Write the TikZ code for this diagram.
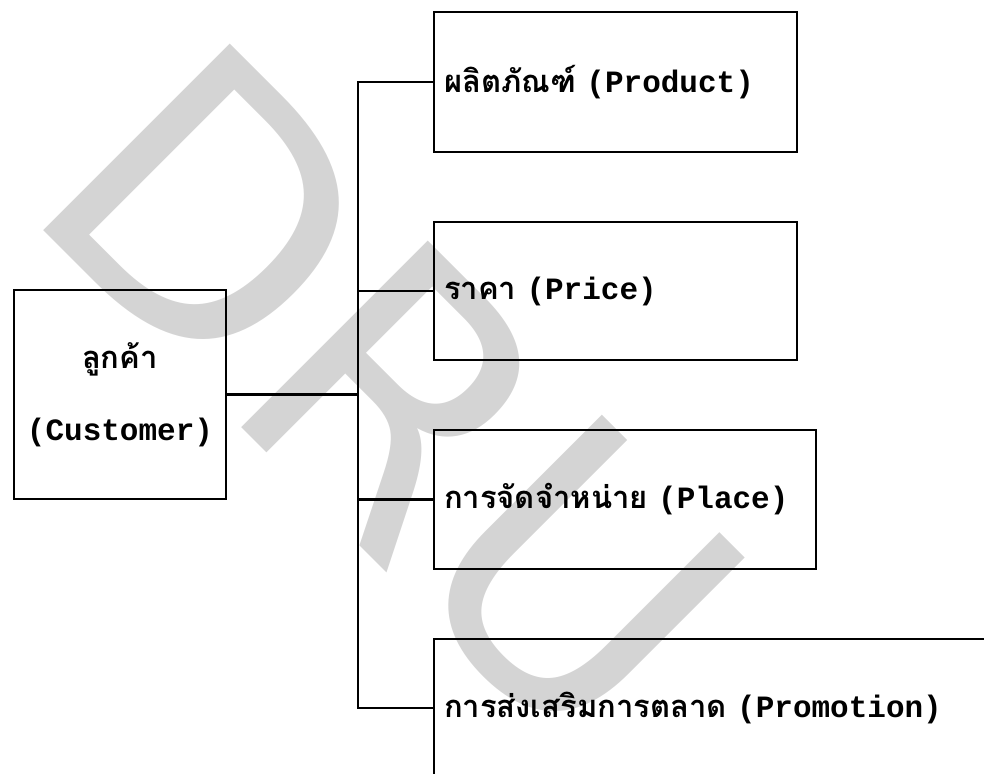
\documentclass[tikz,border=0pt]{standalone}
\usepackage{fontspec}
\setmainfont{Liberation Mono}
\newfontfamily\thaifont[Script=Thai]{Loma}
\newfontfamily\wmfont{DejaVu Sans}

\tikzset{
  box/.style={draw, line width=1.4pt, inner xsep=5pt, inner ysep=0pt, align=left,
    font=\bfseries\fontsize{15.5}{18}\selectfont},
  wmark/.style={text=black!17, inner sep=0pt, font=\wmfont\fontsize{181}{181}\selectfont}
}

\begin{document}
\begin{tikzpicture}[x=0.5pt, y=-0.5pt, line width=1.4pt]
    \useasboundingbox (0,0) rectangle (984,773);
    \clip (0,0) rectangle (984,773);
    \node[wmark, anchor=base west, rotate=-45] (dru) at (18,204) {DRU};
    \node[box, align=center, minimum width=106pt, minimum height=104.5pt,
          font=\bfseries\fontsize{15.5}{36}\selectfont] (customer) at (120,394.5)
          {{\thaifont ลูกค้า}\\(Customer)};
    \node[box, text width=171.5pt, minimum height=70pt] (product) at (615.5,82)
          {{\thaifont ผลิตภัณฑ์} (Product)};
    \node[box, text width=171.5pt, minimum height=69pt] (price) at (615.5,291)
          {{\thaifont ราคา} (Price)};
    \node[box, text width=181pt, minimum height=69.5pt] (place) at (625,499.5)
          {{\thaifont การจัดจำหน่าย} (Place)};
    \node[box, text width=300pt, minimum height=69pt] (promotion) at (744,708)
          {{\thaifont การส่งเสริมการตลาด} (Promotion)};
    \coordinate (bus) at (358,0);
    \draw (customer.east) -- (customer.east -| bus);
    \draw (product.west) -- (product.west -| bus) -- (promotion.west -| bus) -- (promotion.west);
    \draw (price.west) -- (price.west -| bus);
    \draw (place.west) -- (place.west -| bus);
\end{tikzpicture}
\end{document}
